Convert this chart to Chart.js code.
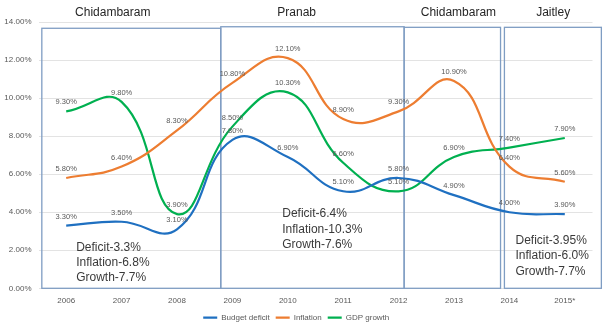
<!DOCTYPE html>
<html><head><meta charset="utf-8">
<script src="https://cdn.jsdelivr.net/npm/chart.js@4/dist/chart.umd.min.js"></script>
<style>html,body{margin:0;padding:0;background:#fff;} #wrap{width:610px;height:329px;position:relative}</style>
</head><body><div id="wrap"><canvas id="c" width="610" height="329"></canvas></div>
<script>
// ---- data ----
const years = ['2006','2007','2008','2009','2010','2011','2012','2013','2014','2015*'];
const budgetDeficit = [3.3, 3.5, 3.1, 7.8, 6.9, 5.1, 5.8, 4.9, 4.0, 3.9];
const inflation     = [5.8, 6.4, 8.3, 10.8, 12.1, 8.9, 9.3, 10.9, 6.4, 5.6];
const gdpGrowth     = [9.3, 9.8, 3.9, 8.5, 10.3, 6.6, 5.1, 6.9, 7.4, 7.9];
const seriesNames = ['Budget deficit', 'Inflation', 'GDP growth'];

const ministers = ['Chidambaram', 'Pranab', 'Chidambaram', 'Jaitley'];
const summaries = [
  ['Deficit-3.3%', 'Inflation-6.8%', 'Growth-7.7%'],
  ['Deficit-6.4%', 'Inflation-10.3%', 'Growth-7.6%'],
  ['Deficit-3.95%', 'Inflation-6.0%', 'Growth-7.7%']
];

// ---- annotation placement (in axis units: category index / percent) ----
const titleX = [0.84, 4.16, 7.08, 8.79];
const boxStart = [-0.44, 2.79, 6.10, 7.91];
const boxEnd   = [2.79, 6.10, 7.84, 9.66];
const boxTop   = [13.67, 13.75, 13.72, 13.72];
const summaryX = [0.18, 3.90, 8.11];
const summaryY = [2.13, 3.9, 2.49];

const colors = ['#1f70c1', '#ed7d31', '#00b050'];
const grey = '#595959';

const overlay = {
  id: 'overlay',
  beforeDatasetsDraw(chart) {
    const {ctx, scales: {x, y}} = chart;
    ctx.save();
    ctx.strokeStyle = '#7f9dc3';
    ctx.lineWidth = 1.3;
    for (let i = 0; i < boxStart.length; i++) {
      const l = x.getPixelForValue(boxStart[i]);
      const r = x.getPixelForValue(boxEnd[i]);
      const t = y.getPixelForValue(boxTop[i]);
      const b = y.getPixelForValue(0);
      ctx.strokeRect(l, t, r - l, b - t);
    }
    ctx.restore();
  },
  afterDatasetsDraw(chart) {
    const {ctx, scales: {x, y}} = chart;
    ctx.save();
    // data labels
    ctx.font = '7.5px "Liberation Sans", Arial, sans-serif';
    ctx.fillStyle = grey;
    ctx.textAlign = 'center';
    ctx.textBaseline = 'middle';
    chart.data.datasets.forEach((ds, di) => {
      const meta = chart.getDatasetMeta(di);
      meta.data.forEach((pt, i) => {
        ctx.fillText(ds.data[i].toFixed(2) + '%', pt.x, pt.y - 9);
      });
    });
    // minister titles
    ctx.font = '12px "Liberation Sans", Arial, sans-serif';
    ctx.fillStyle = '#262626';
    ministers.forEach((m, i) => {
      ctx.fillText(m, x.getPixelForValue(titleX[i]), chart.chartArea.top - 9);
    });
    // summaries
    ctx.font = '12px "Liberation Sans", Arial, sans-serif';
    ctx.fillStyle = '#3a3a3a';
    ctx.textAlign = 'left';
    summaries.forEach((lines, i) => {
      const x0 = x.getPixelForValue(summaryX[i]);
      const y0 = y.getPixelForValue(summaryY[i]);
      lines.forEach((s, j) => ctx.fillText(s, x0, y0 + j * 15.2));
    });
    ctx.restore();
  }
};

const mk = (label, data, color) => ({
  label, data, borderColor: color, backgroundColor: color,
  borderWidth: 2.2, pointRadius: 0, pointStyle: 'line', tension: 0.45, fill: false
});

new Chart(document.getElementById('c'), {
  type: 'line',
  data: {
    labels: years,
    datasets: [
      mk(seriesNames[0], budgetDeficit, colors[0]),
      mk(seriesNames[1], inflation, colors[1]),
      mk(seriesNames[2], gdpGrowth, colors[2])
    ]
  },
  options: {
    responsive: false,
    animation: false,
    layout: {padding: {left: 0, right: 17.5, top: 22, bottom: 0}},
    plugins: {
      tooltip: {enabled: false},
      legend: {
        position: 'bottom',
        maxHeight: 21.3,
        labels: {
          usePointStyle: true, pointStyleWidth: 14,
          boxWidth: 14, boxHeight: 8, padding: 6,
          color: grey,
          font: {family: '"Liberation Sans", Arial, sans-serif', size: 8}
        }
      }
    },
    scales: {
      x: {
        offset: true,
        grid: {display: false, drawTicks: false},
        border: {display: false},
        ticks: {color: grey, padding: 8, font: {family: '"Liberation Sans", Arial, sans-serif', size: 8}, maxRotation: 0},
        afterFit(s) { s.height = 19.4; }
      },
      y: {
        min: 0, max: 14,
        grid: {color: '#e3e3e3', drawTicks: false, lineWidth: 1},
        border: {display: false},
        ticks: {stepSize: 2, color: grey, padding: 7,
          font: {family: '"Liberation Sans", Arial, sans-serif', size: 8},
          callback: v => v.toFixed(2) + '%'},
        afterFit(s) { s.width = 38.5; }
      }
    }
  },
  plugins: [overlay]
});
</script>
</body></html>
